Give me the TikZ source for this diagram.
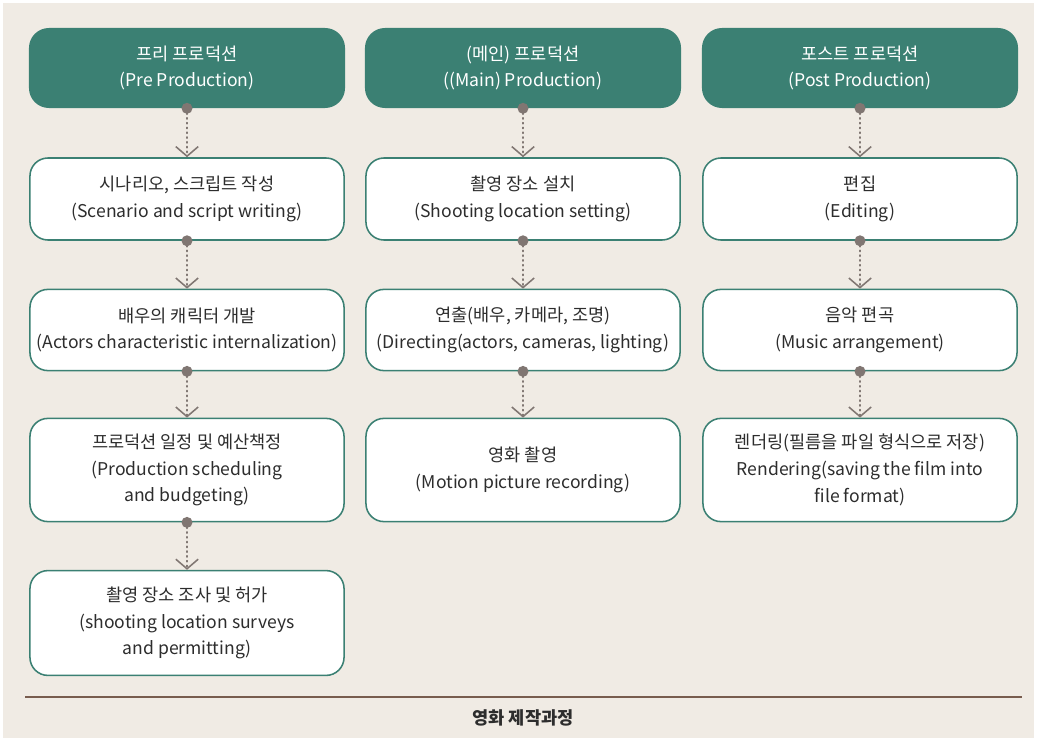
\documentclass[tikz,border=0pt]{standalone}
\usepackage{fontspec}
\setmainfont{Noto Sans CJK KR}
\usetikzlibrary{arrows.meta,positioning}
\definecolor{FilmBg}{RGB}{240,235,228}
\definecolor{FilmTeal}{RGB}{59,128,115}
\definecolor{FilmText}{RGB}{45,45,45}
\definecolor{FilmDot}{RGB}{128,118,114}
\definecolor{FilmRule}{RGB}{120,92,78}
\tikzset{
  etapa/.style={fill=FilmTeal, rounded corners=0.5cm, text=white, align=center,
                font=\fontsize{12.5}{19}\selectfont, minimum width=7.9cm, minimum height=2cm, inner sep=2pt},
  tarefa/.style={draw=FilmTeal, line width=1.1pt, fill=white, rounded corners=0.45cm, text=FilmText,
                 align=center, font=\fontsize{12.5}{19}\selectfont, minimum width=7.85cm, inner sep=2pt},
  seta/.style={FilmDot, line width=1.2pt, dash pattern=on 0.8pt off 2.6pt, line cap=round,
               -{Straight Barb[length=2.4mm, width=5.6mm, line width=1.1pt]}},
  ponto/.style={FilmDot},
}
\begin{document}
\begin{tikzpicture}[x=0.025cm, y=-0.025cm]
  \fill[FilmBg] (3,3) rectangle (1034,738);
  \useasboundingbox (0,0) rectangle (1037,741);

  % cabeçalhos das três fases
  \node[etapa] (h1) at (187,68) {프리 프로덕션\\(Pre Production)};
  \node[etapa] (h2) at (523,68) {(메인) 프로덕션\\((Main) Production)};
  \node[etapa] (h3) at (860,68) {포스트 프로덕션\\(Post Production)};

  % fase 1
  \node[tarefa, minimum height=2.05cm] (p1) at (187,199) {시나리오, 스크립트 작성\\(Scenario and script writing)};
  \node[tarefa, minimum height=2.03cm] (p2) at (187,330) {배우의 캐릭터 개발\\(Actors characteristic internalization)};
  \node[tarefa, minimum height=2.58cm] (p3) at (187,470) {프로덕션 일정 및 예산책정\\(Production scheduling\\and budgeting)};
  \node[tarefa, minimum height=2.62cm] (p4) at (187,623) {촬영 장소 조사 및 허가\\(shooting location surveys\\and permitting)};

  % fase 2
  \node[tarefa, minimum height=2.05cm] (m1) at (523,199) {촬영 장소 설치\\(Shooting location setting)};
  \node[tarefa, minimum height=2.03cm] (m2) at (523,330) {연출(배우, 카메라, 조명)\\(Directing(actors, cameras, lighting)};
  \node[tarefa, minimum height=2.58cm] (m3) at (523,470) {영화 촬영\\(Motion picture recording)};

  % fase 3
  \node[tarefa, minimum height=2.05cm] (s1) at (860,199) {편집\\(Editing)};
  \node[tarefa, minimum height=2.03cm] (s2) at (860,330) {음악 편곡\\(Music arrangement)};
  \node[tarefa, minimum height=2.58cm] (s3) at (860,470) {렌더링(필름을 파일 형식으로 저장)\\Rendering(saving the film into\\file format)};

  % conexões
  \foreach \a/\b in {h1/p1, p1/p2, p2/p3, p3/p4, h2/m1, m1/m2, m2/m3, h3/s1, s1/s2, s2/s3}{
    \draw[seta] (\a.south) -- (\b.north);
    \fill[ponto] (\a.south) circle (5.5);
  }

  % legenda
  \draw[FilmRule, line width=1.2pt] (25,697) coordinate (r1) -- (1022,697) coordinate (r2);
  \node[font=\fontsize{12.5}{15}\selectfont\bfseries, text=FilmText] (leg) at (523,718) {영화 제작과정};
\end{tikzpicture}
\end{document}
